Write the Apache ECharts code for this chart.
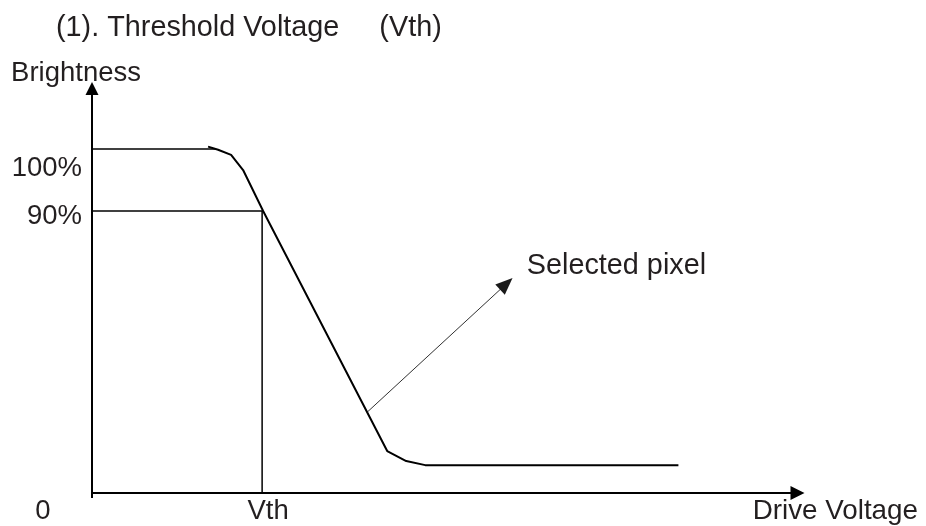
<!DOCTYPE html>
<html>
<head>
<meta charset="utf-8">
<script src="https://cdn.jsdelivr.net/npm/echarts@6/dist/echarts.min.js"></script>
<style>html,body{margin:0;padding:0;background:#fff}#c{width:926px;height:526px}</style>
</head>
<body>
<div id="c"></div>
<script>
// ---- data (schematic units) ----
const X_MAX = 70.5;          // drive-voltage axis extent
const Y_MAX = 117.6;         // brightness axis extent
const VTH = 17;              // threshold voltage position
const Y100 = 100;            // 100% brightness level
const Y90 = 82;              // 90% brightness level
const curveX = [11.6, 12.6, 13.9, 15.1, 17.1, 29.5, 31.4, 33.3, 58.6];
const curveY = [100.7, 99.8, 98.3, 93.9, 82.0, 12.2, 9.3, 8.1, 8.1];
const line100 = [[0, Y100], [12.4, Y100]];
const line90 = [[0, Y90], [VTH, Y90]];
const lineVth = [[VTH, 0], [VTH, Y90]];
const selArrow = [[27.5, 23.5], [41.4, 60.8]];
const selLabelAt = [42.0, 62.5];
const xTickLabels = ['0', 'Vth'];
const yTickLabels = ['90%', '100%'];

const FONT = "'Liberation Sans', Arial, sans-serif";
const TXT = '#231f20';
const curve = curveX.map((x, i) => [x, curveY[i]]);

const chart = echarts.init(document.getElementById('c'), null, {renderer: 'canvas'});
const guide = (data) => ({
  type: 'line', data, symbol: 'none', silent: true,
  lineStyle: {color: '#000', width: 1.5}
});
chart.setOption({
  animation: false,
  backgroundColor: '#fff',
  title: {
    text: '(1). Threshold Voltage     (Vth)',
    left: 51, top: 9,
    textStyle: {fontFamily: FONT, fontSize: 28.8, fontWeight: 'normal', color: TXT}
  },
  grid: {left: 92, right: 128.5, top: 88.5, bottom: 33},
  xAxis: {
    type: 'value', min: 0, max: X_MAX,
    name: 'Drive Voltage', nameLocation: 'end', nameGap: 120.5,
    nameTextStyle: {fontFamily: FONT, fontSize: 27.8, color: TXT, align: 'right', verticalAlign: 'top', padding: [4, 0, 0, 0]},
    axisLine: {show: true, symbol: ['none', 'triangle'], symbolSize: [14, 14], lineStyle: {color: '#000', width: 2}},
    axisTick: {show: true, customValues: [0], length: 5, inside: false, lineStyle: {color: '#000', width: 2}},
    splitLine: {show: false},
    axisLabel: {
      customValues: [0, VTH], margin: 4,
      fontFamily: FONT, fontSize: 27.5, color: TXT,
      formatter: v => v === 0 ? '{z|' + xTickLabels[0] + '}' : '{v|' + xTickLabels[1] + '}',
      rich: {
        z: {fontFamily: FONT, fontSize: 27.5, color: TXT, padding: [0, 98, 0, 0]},
        v: {fontFamily: FONT, fontSize: 27.5, color: TXT, padding: [0, 0, 0, 12]}
      }
    }
  },
  yAxis: {
    type: 'value', min: 0, max: Y_MAX,
    name: 'Brightness', nameLocation: 'end', nameGap: 1,
    nameTextStyle: {fontFamily: FONT, fontSize: 27.5, color: TXT, align: 'center', verticalAlign: 'bottom', padding: [0, 32, 0, 0]},
    axisLine: {show: true, symbol: ['none', 'triangle'], symbolSize: [13, 13], lineStyle: {color: '#000', width: 2}},
    axisTick: {show: false},
    splitLine: {show: false},
    axisLabel: {
      customValues: [Y90, Y100], margin: 10,
      fontFamily: FONT, fontSize: 27.5, color: TXT,
      formatter: v => v === Y100 ? '{a|' + yTickLabels[1] + '}' : '{b|' + yTickLabels[0] + '}',
      rich: {
        a: {fontFamily: FONT, fontSize: 27.5, color: TXT, padding: [38, 0, 0, 0]},
        b: {fontFamily: FONT, fontSize: 27.5, color: TXT, padding: [10, 0, 0, 0]}
      }
    }
  },
  series: [
    guide(line100),
    guide(line90),
    guide(lineVth),
    {
      type: 'line', data: curve, symbol: 'none', silent: true,
      lineStyle: {color: '#000', width: 2},
      markLine: {
        silent: true, animation: false,
        symbol: ['none', 'triangle'], symbolSize: [14, 17],
        label: {show: false},
        lineStyle: {color: '#1a1a1a', width: 0.9, type: 'solid'},
        emphasis: {disabled: true},
        data: [[{coord: selArrow[0]}, {coord: selArrow[1]}]]
      },
      markPoint: {
        silent: true, animation: false,
        symbol: 'circle', symbolSize: 1, itemStyle: {color: 'rgba(0,0,0,0)'},
        label: {show: true, position: 'right', distance: 14, offset: [0, -12],
          formatter: 'Selected pixel', fontFamily: FONT, fontSize: 28.8, color: TXT},
        data: [{coord: selLabelAt}]
      }
    }
  ]
});
</script>
</body>
</html>
